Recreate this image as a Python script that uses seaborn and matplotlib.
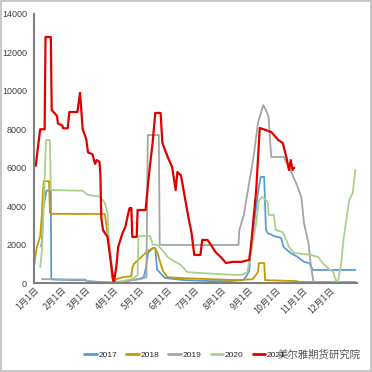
import matplotlib
matplotlib.use("Agg")
import matplotlib.pyplot as plt
import pandas as pd
import numpy as np
import seaborn as sns

# day-of-year / value pairs
days_2017 = [8, 9, 10, 12, 14, 19, 19.5, 25, 45, 58, 60, 75, 89, 90, 100, 110, 118, 124, 126, 129, 134,
             137, 139, 148, 170, 200, 220, 236, 239, 243, 245, 251, 254, 256, 260, 262, 264, 271, 279,
             282, 290, 298, 305, 311, 315, 363]
vals_2017 = [1900, 2200, 3850, 4300, 4800, 4850, 200, 180, 150, 150, 100, 50, 20, 0, 50, 150, 200, 300, 700,
             1560, 1820, 1820, 700, 260, 150, 100, 100, 150, 300, 600, 1800, 4000, 5000, 5520, 5520, 2760,
             2600, 2450, 2350, 1870, 1560, 1350, 1100, 1040, 680, 680]

days_2018 = [0, 3, 7, 9, 10, 11, 17, 18, 20, 80, 83, 86, 88, 90, 93, 100, 110, 111, 113, 120, 128, 134,
             137, 140, 143, 146, 151, 170, 200, 230, 247, 253, 254, 260, 261, 296, 300, 363]
vals_2018 = [880, 1820, 2450, 3640, 4680, 5300, 5300, 3640, 3600, 3590, 2600, 1700, 310, 0, 200, 300, 350,
             800, 1000, 1300, 1650, 1800, 1800, 1500, 1000, 600, 300, 250, 200, 150, 200, 570, 1040, 1040,
             150, 100, 50, 50]

days_2019 = [9, 58, 60, 88, 90, 100, 120, 127, 128.5, 141, 142, 231, 232, 237, 243, 248, 253, 259, 262,
             265, 268, 282, 288, 296, 302, 305, 310, 313, 316, 363]
vals_2019 = [200, 180, 80, 30, 0, 100, 200, 300, 7700, 7700, 1980, 1980, 2760, 3540, 5200, 6560, 8330,
             9260, 9000, 8640, 6560, 6560, 6040, 5200, 4480, 3120, 2080, 830, 0, 0]

days_2020 = [7, 9, 10, 12.5, 13.6, 18, 19, 55, 61, 75, 80, 83, 84, 88, 90, 100, 110, 117, 118, 131, 134,
             139, 145, 151, 156, 166, 173, 188, 226, 234, 241, 245, 251, 254, 258, 264, 265, 271, 273,
             281, 285, 288, 294, 313, 321, 326, 332, 338, 341, 343, 347, 350, 354, 356, 360, 363]
vals_2020 = [830, 1700, 2760, 6040, 7440, 7440, 4840, 4800, 4580, 4500, 4160, 3640, 2600, 800, 0, 100,
             200, 400, 2450, 2450, 2000, 1980, 1720, 1350, 1200, 940, 570, 520, 420, 420, 570, 1560, 3120,
             4300, 4480, 4220, 3540, 3540, 2760, 2650, 2240, 1870, 1560, 1460, 1350, 1040, 780, 570, 150,
             0, 1040, 2400, 3640, 4320, 4680, 5880]

days_2021 = [2, 4, 7, 12, 13, 19, 20, 26, 27, 32, 33, 38, 40, 49, 52, 55, 59, 61, 66, 69, 71, 74, 75, 76,
             78, 83, 86, 90, 93, 95, 100, 103, 105, 106, 108, 110, 111, 116, 117, 126, 130, 134, 137, 143,
             145, 151, 156, 160, 162, 166, 171, 175, 178, 181, 188, 190, 196, 200, 205, 211, 217, 224, 234,
             243, 245, 251, 255, 268, 276, 281, 285, 288, 290, 292, 294]
vals_2021 = [6100, 6900, 8000, 8000, 12800, 12800, 9000, 8700, 8300, 8200, 8050, 8050, 8900, 8900, 9900,
             8000, 7500, 6800, 6700, 6200, 6400, 6300, 5600, 3400, 2750, 2400, 1350, 0, 830, 1870, 2600,
             2900, 3300, 3540, 3900, 3900, 2400, 2400, 3800, 3800, 5700, 7300, 8850, 8850, 7300, 6560,
             6040, 4840, 5780, 5600, 4300, 3280, 2600, 1460, 1460, 2240, 2240, 1980, 1610, 1350, 1040,
             1100, 1100, 1200, 1870, 4840, 8070, 7860, 7440, 7290, 6560, 5880, 6400, 5880, 6000]

years = ["2017", "2018", "2019", "2020", "2021"]
colors = ["#5B9BD5", "#C59A00", "#A5A5A5", "#A9D18E", "#E00000"]
month_days = [0, 31, 59, 90, 120, 151, 181, 212, 243, 273, 304, 334]
month_labels = ["%d月1日" % m for m in range(1, 13)]

series = [(days_2017, vals_2017), (days_2018, vals_2018), (days_2019, vals_2019),
          (days_2020, vals_2020), (days_2021, vals_2021)]
frames = []
for yr, (d, v) in zip(years, series):
    frames.append(pd.DataFrame({"day": d, "value": v, "year": yr}))
df = pd.concat(frames, ignore_index=True)

sns.set_style("white")
plt.rcParams['font.family'] = ['Liberation Sans', 'DejaVu Sans']

fig = plt.figure(figsize=(3.72, 3.72), dpi=100)
fig.patch.set_edgecolor("#C8C8C8")
fig.patch.set_linewidth(1.5)
ax = fig.add_axes([0.0914, 0.2392, 0.8686, 0.7232])

sns.lineplot(data=df, x="day", y="value", hue="year", palette=dict(zip(years, colors)),
             estimator=None, sort=False, linewidth=1.3, ax=ax, legend=False)
# thicker red line for the current year
ax.lines[-1].set_linewidth(1.6)

ax.set_xlim(0, 365)
ax.set_ylim(0, 14000)
ax.set_yticks(np.arange(0, 14001, 2000))
ax.set_yticklabels([str(v) for v in range(0, 14001, 2000)], fontsize=6.5, color="#404040")
ax.set_xticks(month_days)
ax.set_xticklabels(month_labels, rotation=45, ha="right", rotation_mode="anchor",
                   fontsize=6.5, color="#404040", family=["Noto Sans CJK SC"])
ax.set_xlabel("")
ax.set_ylabel("")
ax.tick_params(axis="y", length=3, width=1, color="#595959", pad=2)
ax.tick_params(axis="x", length=3, width=1, color="#595959", pad=2, direction="in")

sns.despine(ax=ax)
ax.spines["left"].set_color("#7F7F7F")
ax.spines["left"].set_linewidth(1.5)
ax.spines["bottom"].set_color("#7F7F7F")
ax.spines["bottom"].set_linewidth(1.5)

handles = [plt.Line2D([], [], color=c, linewidth=2) for c in colors]
fig.legend(handles, years, loc="center", bbox_to_anchor=(0.497, 0.046), ncol=5, frameon=False,
           fontsize=6, handlelength=1.5, handletextpad=0.2, columnspacing=1.1,
           borderpad=0, borderaxespad=0)

fig.text(0.747, 0.046, "美尔雅期货研究院", fontsize=7.5, color="#555555", va="center",
         family=["Noto Sans CJK SC"])

fig.savefig("out.png", dpi=100)
